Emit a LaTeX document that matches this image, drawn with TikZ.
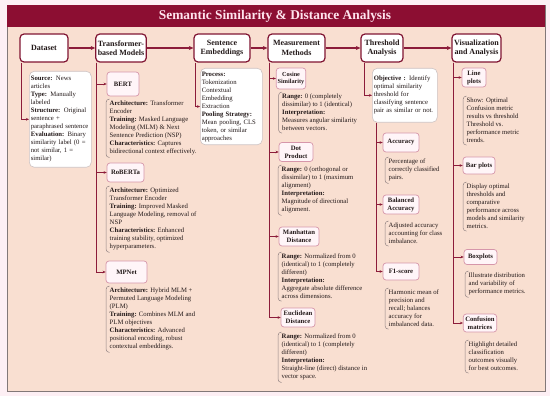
\documentclass[tikz,border=0pt]{standalone}
\usepackage{fontspec}
\setmainfont{Liberation Serif}
\usetikzlibrary{arrows.meta}
\definecolor{outbg}{RGB}{253,239,244}
\definecolor{peach}{RGB}{249,223,209}
\definecolor{framec}{RGB}{130,120,120}
\definecolor{titlec}{RGB}{140,14,50}
\definecolor{titletxt}{RGB}{255,228,238}
\definecolor{hdrc}{RGB}{128,20,50}
\definecolor{subc}{RGB}{214,150,170}
\definecolor{subfill}{RGB}{255,245,248}
\definecolor{wboxc}{RGB}{205,195,195}
\definecolor{brkc}{RGB}{145,130,130}
\definecolor{conc}{RGB}{140,28,58}
\definecolor{txt}{RGB}{35,25,25}
\tikzset{
 hdr/.style={draw=hdrc, line width=1.2pt, fill=white, rounded corners=4pt, align=center,
   font=\fontsize{8}{9.5}\selectfont\bfseries, text=txt, minimum height=28pt, inner sep=2pt},
 sub/.style={draw=subc, line width=0.7pt, fill=subfill, rounded corners=3pt, align=center,
   font=\fontsize{6.7}{8}\selectfont\bfseries, text=txt, inner sep=2pt},
 wbox/.style={draw=wboxc, line width=0.6pt, fill=white, rounded corners=5pt, align=left,
   font=\fontsize{6.7}{8}\selectfont, text=txt, anchor=north west, inner xsep=1.5pt},
 desc/.style={align=left, font=\fontsize{6.7}{8}\selectfont, text=txt, anchor=north west,
   inner xsep=3.5pt, inner ysep=2pt},
 brk/.style={draw=brkc, line width=0.5pt, rounded corners=3.5pt},
 branch/.style={draw=conc, line width=0.7pt, -{Stealth[length=3pt,width=2.6pt]}},
 flow/.style={draw=conc, line width=1.2pt, -{Stealth[length=4.5pt,width=4pt]}},
}
\newcommand{\brkt}[1]{\draw[brk] ([xshift=3.5pt]#1.north west) -- (#1.north west) -- (#1.south west) -- ([xshift=3.5pt]#1.south west);}
\begin{document}
\begin{tikzpicture}[x=1pt,y=-1pt]
\useasboundingbox (0,0) rectangle (550,396);
\fill[outbg] (0,0) rectangle (550,396);
\draw[framec, line width=0.6pt, fill=peach] (7,5) rectangle (545,391);
\fill[titlec] (7,5) rectangle (545,27);
\node[text=titletxt, font=\fontsize{13.4}{15}\selectfont\bfseries] (title) at (275,16) {Semantic Similarity \& Distance Analysis};

% headers
\node[hdr, minimum width=48pt] (hdata) at (44,48) {Dataset};
\node[hdr, minimum width=50pt] (htrans) at (121,48) {Transformer-\\based Models};
\node[hdr, minimum width=56pt] (hsent) at (222,48) {Sentence\\Embeddings};
\node[hdr, minimum width=57pt] (hmeas) at (296.5,48) {Measurement\\Methods};
\node[hdr, minimum width=42pt] (hthr) at (382,48) {Threshold\\Analysis};
\node[hdr, minimum width=49pt] (hvis) at (476.5,48) {Visualization\\and Analysis};
\draw[flow] (hdata.east) -- (htrans.west);
\draw[flow] (htrans.east) -- (hsent.west);
\draw[flow] (hsent.east) -- (hmeas.west);
\draw[flow] (hmeas.east) -- (hthr.west);
\draw[flow] (hthr.east) -- (hvis.west);

% dataset
\node[wbox, text width=59pt, minimum height=96pt] (ddata) at (29,71) {\textbf{Source:} News\\articles\\\textbf{Type:} Manually\\labeled\\\textbf{Structure:} Original\\sentence +\\paraphrased sentence\\\textbf{Evaluation:} Binary\\similarity label (0 =\\not similar, 1 =\\similar)};
\draw[branch] ([xshift=2pt]hdata.south west) |- (ddata.west);

% transformers
\node[sub, minimum width=32pt, minimum height=24pt] (bert) at (123,84) {BERT};
\node[sub, minimum width=37pt, minimum height=19pt] (roberta) at (125.5,172.5) {RoBERTa};
\node[sub, minimum width=41pt, minimum height=22pt] (mpnet) at (126.5,272) {MPNet};
\draw[branch] ([xshift=1.5pt]htrans.south west) |- (bert.west);
\draw[branch] ([xshift=1.5pt]htrans.south west) |- (roberta.west);
\draw[branch] ([xshift=1.5pt]htrans.south west) |- (mpnet.west);
\node[desc] (dbert) at (106,99) {\textbf{Architecture:} Transformer\\Encoder\\\textbf{Training:} Masked Language\\Modeling (MLM) \& Next\\Sentence Prediction (NSP)\\\textbf{Characteristics:} Captures\\bidirectional context effectively.};
\node[desc] (droberta) at (106,186) {\textbf{Architecture:} Optimized\\Transformer Encoder\\\textbf{Training:} Improved Masked\\Language Modeling, removal of\\NSP\\\textbf{Characteristics:} Enhanced\\training stability, optimized\\hyperparameters.};
\node[desc] (dmpnet) at (106,286) {\textbf{Architecture:} Hybrid MLM +\\Permuted Language Modeling\\(PLM)\\\textbf{Training:} Combines MLM and\\PLM objectives\\\textbf{Characteristics:} Advanced\\positional encoding, robust\\contextual embeddings.};
\brkt{dbert}\brkt{droberta}\brkt{dmpnet}

% sentence embeddings
\node[wbox, text width=59pt, minimum height=75pt] (dsent) at (200,68) {\textbf{Process:}\\Tokenization\\Contextual\\Embedding\\Extraction\\\textbf{Pooling Strategy:}\\Mean pooling, CLS\\token, or similar\\approaches};
\draw[branch] ([xshift=1.5pt]hsent.south west) |- (dsent.west);

% measurement
\node[sub, minimum width=29pt, minimum height=21pt, inner xsep=1.5pt, font=\fontsize{6.2}{7.6}\selectfont\bfseries] (cos) at (291,78.5) {Cosine\\Similarity};
\node[sub, minimum width=34pt, minimum height=19pt] (dot) at (296,152) {Dot\\Product};
\node[sub, minimum width=40pt, minimum height=19pt] (man) at (299,236.5) {Manhattan\\Distance};
\node[sub, minimum width=34pt, minimum height=19pt] (euc) at (298,317.5) {Euclidean\\Distance};
\draw[branch] ([xshift=2pt]hmeas.south west) |- (cos.west);
\draw[branch] ([xshift=2pt]hmeas.south west) |- (dot.west);
\draw[branch] ([xshift=2pt]hmeas.south west) |- (man.west);
\draw[branch] ([xshift=2pt]hmeas.south west) |- (euc.west);
\node[desc] (dcos) at (278.5,92) {\textbf{Range:} 0 (completely\\dissimilar) to 1 (identical)\\\textbf{Interpretation:}\\ Measures angular similarity\\between vectors.};
\node[desc] (ddot) at (278,165) {\textbf{Range:} 0 (orthogonal or\\dissimilar) to 1 (maximum\\alignment)\\\textbf{Interpretation:}\\Magnitude of directional\\alignment.};
\node[desc] (dman) at (278,252) {\textbf{Range:} Normalized from 0\\(identical) to 1 (completely\\different)\\\textbf{Interpretation:}\\Aggregate absolute difference\\across dimensions.};
\node[desc] (deuc) at (278,332) {\textbf{Range:} Normalized from 0\\(identical) to 1 (completely\\different)\\\textbf{Interpretation:}\\Straight-line (direct) distance in\\vector space.};
\brkt{dcos}\brkt{ddot}\brkt{dman}\brkt{deuc}

% threshold
\node[wbox, text width=62pt, minimum height=54pt] (dobj) at (372,68) {\textbf{Objective :} Identify\\optimal similarity\\threshold for\\classifying sentence\\pair as similar or not.};
\draw[branch] ([xshift=4pt]hthr.south west) |- (dobj.west);
\node[sub, minimum width=36pt, minimum height=19pt] (acc) at (401,142.5) {Accuracy};
\node[sub, minimum width=36pt, minimum height=19pt] (bacc) at (401,204.5) {Balanced\\Accuracy};
\node[sub, minimum width=36pt, minimum height=17pt] (f1) at (401,271.5) {F1-score};
\draw[branch] ([xshift=4pt]dobj.south west) |- (acc.west);
\draw[branch] ([xshift=4pt]dobj.south west) |- (bacc.west);
\draw[branch] ([xshift=4pt]dobj.south west) |- (f1.west);
\node[desc] (dacc) at (385,157) {Percentage of\\correctly classified\\pairs.};
\node[desc] (dbacc) at (385,221) {Adjusted accuracy\\accounting for class\\imbalance.};
\node[desc] (df1) at (385,288) {Harmonic mean of\\precision and\\recall; balances\\accuracy for\\imbalanced data.};
\brkt{dacc}\brkt{dbacc}\brkt{df1}

% visualization
\node[sub, minimum width=24pt, minimum height=19pt] (lplot) at (474,77.5) {Line\\plots};
\node[sub, minimum width=32pt, minimum height=17pt] (bplot) at (479,165.5) {Bar plots};
\node[sub, minimum width=33pt, minimum height=15pt] (boxp) at (480.5,257) {Boxplots};
\node[sub, minimum width=32pt, minimum height=18pt] (conf) at (480,323) {Confusion\\matrices};
\draw[branch] ([xshift=1.5pt]hvis.south west) |- (lplot.west);
\draw[branch] ([xshift=1.5pt]hvis.south west) |- (bplot.west);
\draw[branch] ([xshift=1.5pt]hvis.south west) |- (boxp.west);
\draw[branch] ([xshift=1.5pt]hvis.south west) |- (conf.west);
\node[desc] (dlplot) at (463,96) {Show: Optimal\\Confusion metric\\results vs threshold\\Threshold vs.\\performance metric\\trends.};
\node[desc] (dbplot) at (463,182) {Display optimal\\thresholds and\\comparative\\performance across\\models and similarity\\metrics.};
\node[desc] (dboxp) at (465,271) {Illustrate distribution\\and variability of\\performance metrics.};
\node[desc] (dconf) at (465,340) {Highlight detailed\\classification\\outcomes visually\\for best outcomes.};
\brkt{dlplot}\brkt{dbplot}\brkt{dboxp}\brkt{dconf}
\end{tikzpicture}
\end{document}
